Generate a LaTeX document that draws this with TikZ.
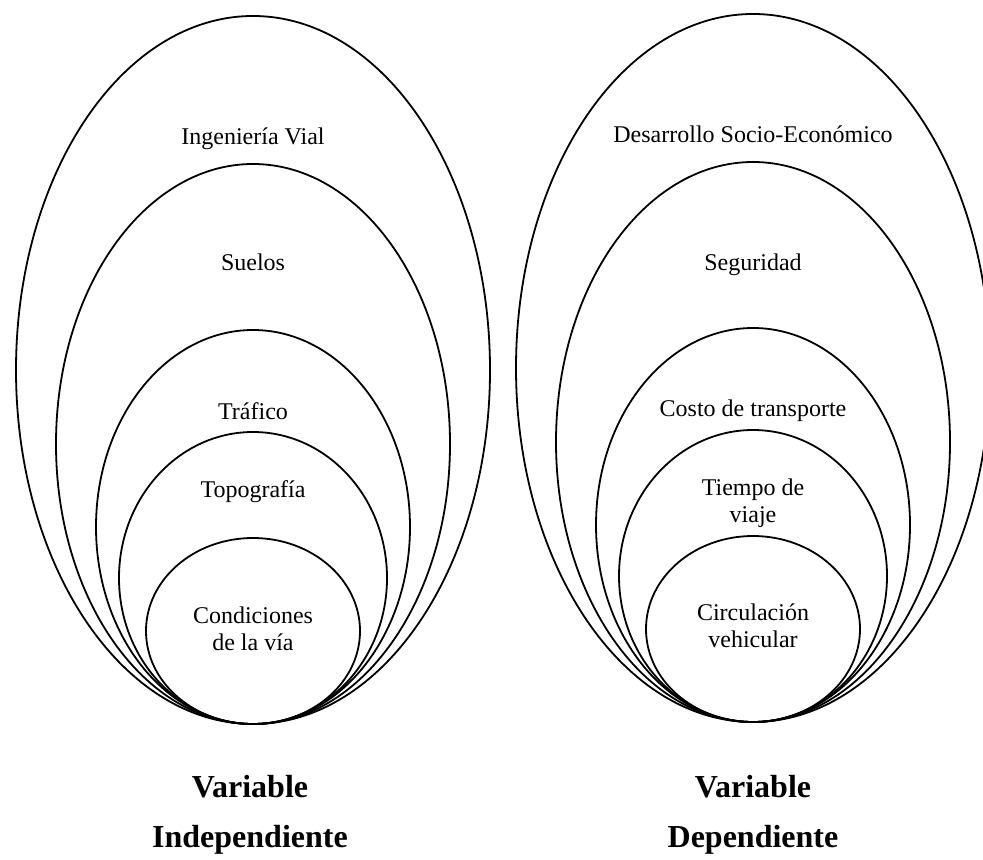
\documentclass[tikz,border=0pt]{standalone}
\usepackage{fontspec}
\setmainfont{Liberation Serif}

\tikzset{
  capa/.style={line width=0.9pt},
  rotulo/.style={anchor=base, align=center, inner sep=0pt, font=\fontsize{12}{13.5}\selectfont},
  titulo/.style={anchor=base, inner sep=0pt, font=\fontsize{16}{19}\selectfont\bfseries},
}

\begin{document}
\begin{tikzpicture}[x=0.5pt,y=-0.5pt]
\useasboundingbox (0,0) rectangle (983,860);
% variable independiente
\foreach \rx/\ry in {237/354,197/280,157/197,134/146,107/93}
  \draw[capa] (253,724-\ry) ellipse ({\rx} and {\ry});
\node[rotulo] (vial) at (253,145) {Ingeniería Vial};
\node[rotulo] (suelos) at (253,271) {Suelos};
\node[rotulo] (trafico) at (253,419) {Tráfico};
\node[rotulo] (topografia) at (253,497) {Topografía};
\node[rotulo] (condiciones) at (253,650) {Condiciones\\de la vía};
% variable dependiente
\foreach \rx/\ry in {237/354,197/280,157/197,134/146,107/93}
  \draw[capa] (753,722-\ry) ellipse ({\rx} and {\ry});
\node[rotulo] (desarrollo) at (753,143) {Desarrollo Socio-Económico};
\node[rotulo] (seguridad) at (753,271) {Seguridad};
\node[rotulo] (costo) at (753,416) {Costo de transporte};
\node[rotulo] (tiempo) at (753,522) {Tiempo de\\viaje};
\node[rotulo] (circulacion) at (753,647) {Circulación\\vehicular};
% titulos
\node[titulo] (varind) at (250,797) {Variable};
\node[titulo] (indep) at (250,847) {Independiente};
\node[titulo] (vardep) at (753,797) {Variable};
\node[titulo] (dep) at (753,847) {Dependiente};
\end{tikzpicture}
\end{document}
